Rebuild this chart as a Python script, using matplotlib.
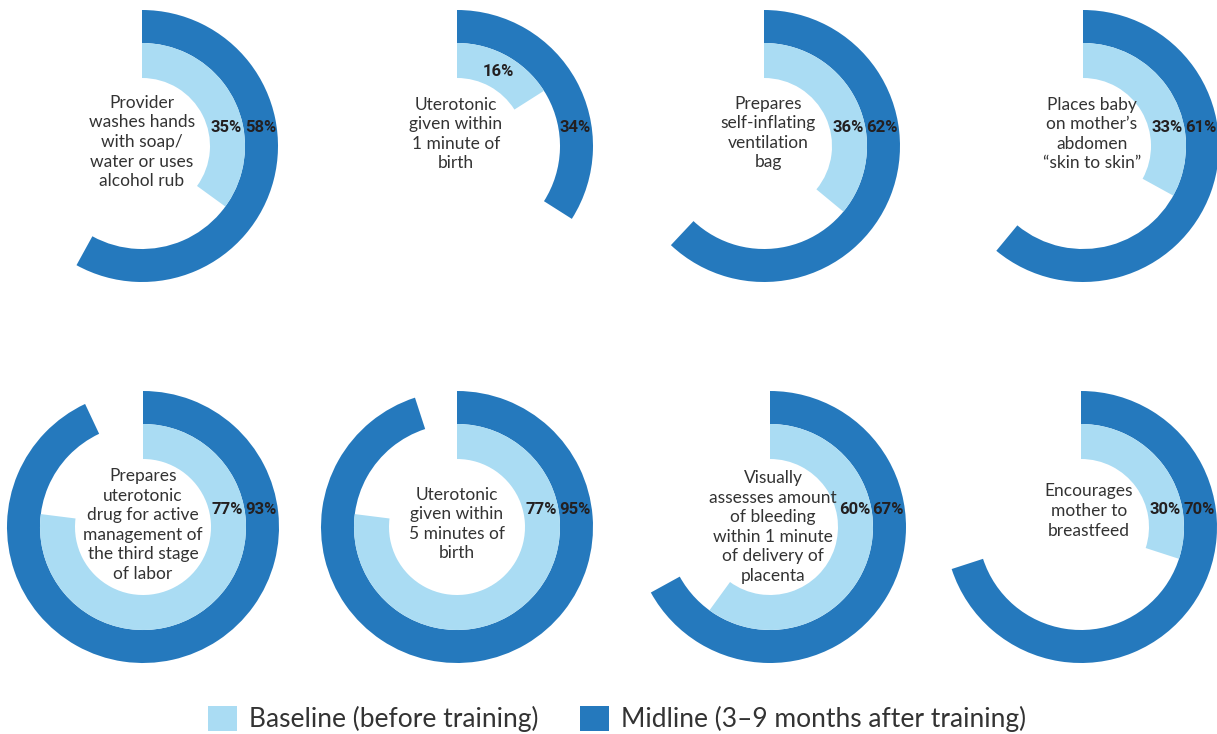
import numpy as np
import matplotlib.pyplot as plt
from matplotlib.patches import Patch

# data
labels = [
    "Provider\nwashes hands\nwith soap/\nwater or uses\nalcohol rub",
    "Uterotonic\ngiven within\n1 minute of\nbirth",
    "Prepares\nself-inflating\nventilation\nbag",
    "Places baby\non mother\u2019s\nabdomen\n\u201cskin to skin\u201d",
    "Prepares\nuterotonic\ndrug for active\nmanagement of\nthe third stage\nof labor",
    "Uterotonic\ngiven within\n5 minutes of\nbirth",
    "Visually\nassesses amount\nof bleeding\nwithin 1 minute\nof delivery of\nplacenta",
    "Encourages\nmother to\nbreastfeed",
]
baseline = [35, 16, 36, 33, 77, 77, 60, 30]
midline = [58, 34, 62, 61, 93, 95, 67, 70]

# layout (pixels)
W, H = 1217, 734
centers = [(142, 146), (457, 146), (764, 146), (1083, 146),
           (143, 527), (457, 527), (770, 527), (1081, 527)]
text_shift = [(0, -4), (-1, -12), (4, -13), (9, -12),
              (0, -2), (0, -3), (3, 0), (8, -16)]
R_OUT, R_MID, R_IN = 136, 103, 68

light = '#aadcf3'
dark = '#2579bd'
txt = '#333333'
num = '#231f20'
numfont = dict(fontsize=12, fontweight='bold', family='Roboto', color=num)

fig = plt.figure(figsize=(W / 100, H / 100), dpi=100)

for i in range(len(labels)):
    cx, cy = centers[i]
    ax = fig.add_axes([(cx - R_OUT) / W, (H - cy - R_OUT) / H, 2 * R_OUT / W, 2 * R_OUT / H])
    ax.pie([midline[i], 100 - midline[i]], radius=1, startangle=90, counterclock=False,
           colors=[dark, 'none'], wedgeprops=dict(width=(R_OUT - R_MID) / R_OUT, linewidth=0))
    ax.pie([baseline[i], 100 - baseline[i]], radius=R_MID / R_OUT, startangle=90,
           counterclock=False, colors=[light, 'none'],
           wedgeprops=dict(width=(R_MID - R_IN) / R_OUT, linewidth=0))
    ax.set_xlim(-1, 1)
    ax.set_ylim(-1, 1)
    ax.axis('off')

    dx, dy = text_shift[i]
    ax.text(dx / R_OUT, -dy / R_OUT, labels[i], ha='center', va='center',
            fontsize=12.5, family='Lato', color=txt, linespacing=1.27)

    ly = 18 / R_OUT
    ax.text((R_OUT - 2) / R_OUT, ly, f"{midline[i]}%", ha='right', va='center', **numfont)
    if baseline[i] < 25:
        ang = np.deg2rad(baseline[i] / 100 * 360 / 2)
        rm = (R_MID + R_IN) / 2 / R_OUT
        ax.text(rm * np.sin(ang), rm * np.cos(ang), f"{baseline[i]}%", ha='center',
                va='center', **numfont)
    else:
        ax.text((R_MID - 3) / R_OUT, ly, f"{baseline[i]}%", ha='right', va='center', **numfont)

handles = [Patch(facecolor=light, edgecolor='none'), Patch(facecolor=dark, edgecolor='none')]
fig.legend(handles, ["Baseline (before training)", "Midline (3\u20139 months after training)"],
           loc='lower center', bbox_to_anchor=(0.507, -0.03), ncol=2, frameon=False,
           prop={'family': 'Lato', 'size': 19}, labelcolor=txt,
           handlelength=1.1, handleheight=1.1, handletextpad=0.45, columnspacing=1.55)

fig.savefig('out.png', dpi=100)
